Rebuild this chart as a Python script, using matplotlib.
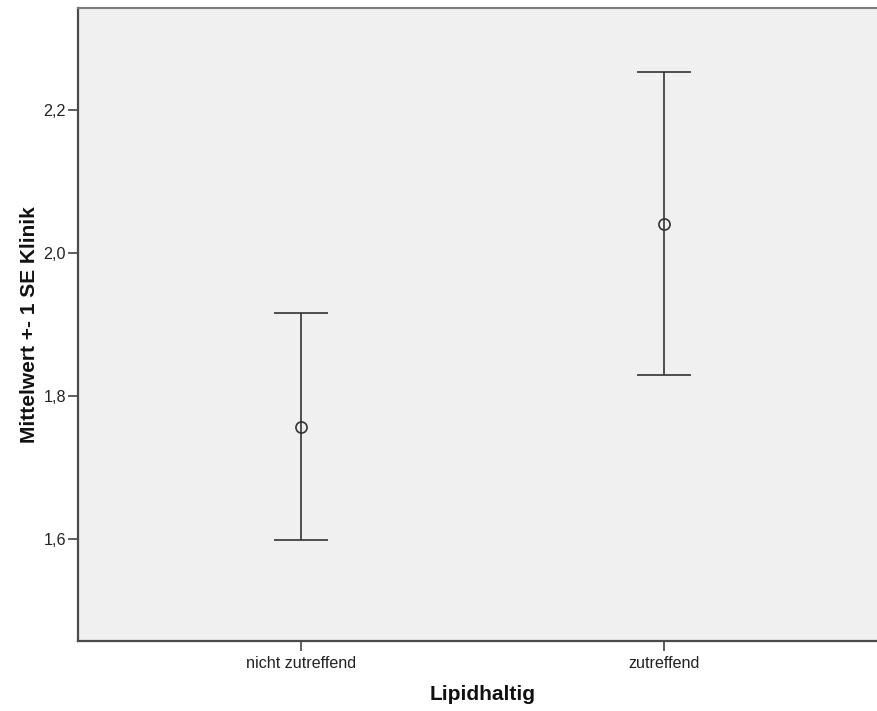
import matplotlib
matplotlib.use("Agg")
import matplotlib.pyplot as plt

# Group means and standard errors of "Klinik" by "Lipidhaltig"
categories = ["nicht zutreffend", "zutreffend"]
means = [1.757, 2.041]
std_errors = [0.159, 0.212]
y_ticks = [1.6, 1.8, 2.0, 2.2]
y_tick_labels = ["1,6", "1,8", "2,0", "2,2"]

plt.rcParams["font.family"] = ["Liberation Sans", "DejaVu Sans"]

fig = plt.figure(figsize=(8.77, 7.11), dpi=100)
fig.patch.set_facecolor("white")
ax = fig.add_axes([78 / 877, 1 - 641 / 711, 809 / 877, 633 / 711])
ax.set_facecolor("#f0f0f0")

x = list(range(len(categories)))
line_col = "#333333"
ax.errorbar(x, means, yerr=std_errors, fmt="o", color=line_col,
            ecolor=line_col, elinewidth=1.2, capsize=19.5, capthick=1.2,
            markersize=8, markerfacecolor="none", markeredgecolor=line_col,
            markeredgewidth=1.2, zorder=3)

ax.set_xlim(-0.6126, 1.6126)
ax.set_ylim(1.4573, 2.3427)

ax.set_xticks(x)
ax.set_xticklabels(categories)
ax.set_yticks(y_ticks)
ax.set_yticklabels(y_tick_labels)

ax.tick_params(axis="both", direction="out", length=7, width=1.2,
               color="#444444", labelsize=11.6, labelcolor="#222222")
ax.tick_params(axis="y", pad=1.5)
ax.tick_params(axis="x", pad=4)

for side in ("left", "bottom"):
    ax.spines[side].set_color("#4a4a4a")
    ax.spines[side].set_linewidth(1.6)
ax.spines["top"].set_color("#7a7a7a")
ax.spines["top"].set_linewidth(1.5)
ax.spines["right"].set_color("#7a7a7a")
ax.spines["right"].set_linewidth(1.5)

ax.set_xlabel("Lipidhaltig", fontsize=15, fontweight="bold", labelpad=10,
              color="#111111")
ax.set_ylabel("Mittelwert +- 1 SE Klinik", fontsize=15, fontweight="bold",
              labelpad=3, color="#111111")

fig.savefig("out.png", dpi=100, facecolor="white")
